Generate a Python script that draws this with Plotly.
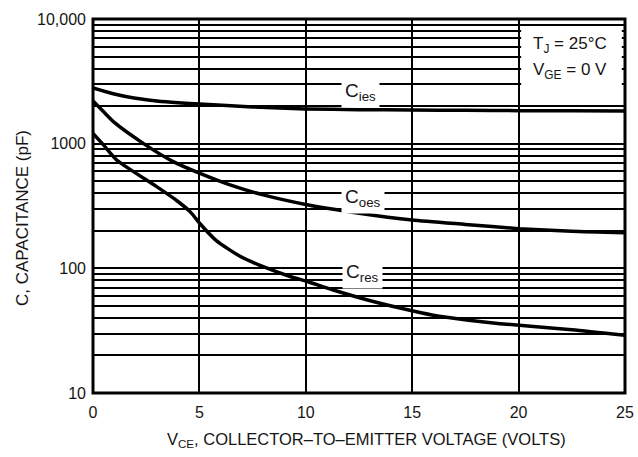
import plotly.graph_objects as go
import numpy as np

# Data
vce_ies = [0, 1, 2, 3, 4, 5, 7.5, 10, 12.5, 15, 17.5, 20, 22.5, 25]
c_ies = [2800, 2500, 2310, 2200, 2130, 2080, 1970, 1900, 1875, 1860, 1850, 1840, 1835, 1830]

vce_oes = [0, 0.5, 1, 2.36, 3.77, 5, 6.44, 8, 10, 12.5, 15, 17.5, 20, 22.5, 25]
c_oes = [2200, 1800, 1480, 1006, 718, 580, 467, 388, 325, 277, 244, 225, 208, 198, 193]

vce_res = [0, 0.49, 1.11, 1.9, 2.99, 3.93, 4.56, 5.03, 5.81, 6.91, 8.0, 9.26, 10.1,
           11.29, 12.86, 14.43, 15.99, 17.56, 19.13, 22.5, 25]
c_res = [1211, 977, 740, 597, 452, 350, 285, 228, 166, 125, 103, 86, 78,
         67, 56, 48, 42, 38.5, 36, 32.2, 29]

x_ticks = [0, 5, 10, 15, 20, 25]
y_ticks = [10, 100, 1000, 10000]
y_ticktext = ["10", "100", "1000", "10,000"]
y_minor = [m * d for d in [10, 100, 1000] for m in range(2, 10)]

curve_labels = ["C<sub>ies</sub>", "C<sub>oes</sub>", "C<sub>res</sub>"]
label_x = [12.55, 12.7, 12.65]
label_y = [2600, 367, 92]

FONT = "Liberation Sans, Arial, sans-serif"
TXT = "#151515"

fig = go.Figure()
for xs, ys in [(vce_ies, c_ies), (vce_oes, c_oes), (vce_res, c_res)]:
    fig.add_trace(go.Scatter(x=xs, y=ys, mode="lines",
                             line=dict(color="black", width=3.5, shape="spline", smoothing=0.6),
                             showlegend=False, hoverinfo="skip"))

fig.update_layout(
    width=638, height=457,
    margin=dict(l=93, r=13, t=19, b=64),
    paper_bgcolor="white", plot_bgcolor="white",
    xaxis=dict(range=[0, 25], tickvals=x_ticks, showgrid=True, gridcolor="black", gridwidth=2,
               zeroline=False, showline=False, ticks="", ticklabelstandoff=8, automargin=False,
               tickfont=dict(family=FONT, size=16, color=TXT)),
    yaxis=dict(type="log", range=[1, 4], tickvals=y_ticks, ticktext=y_ticktext,
               showgrid=True, gridcolor="black", gridwidth=2, automargin=False,
               minor=dict(tickvals=y_minor, showgrid=True, gridcolor="black", gridwidth=1.5, ticks=""),
               zeroline=False, showline=False, ticks="", ticklabelstandoff=6,
               tickfont=dict(family=FONT, size=16, color=TXT)),
)

# white box for conditions text
fig.add_shape(type="rect", xref="x", yref="y", x0=20.12, x1=24.85, y0=2300, y1=8600,
              fillcolor="white", line=dict(width=0), layer="above")
# plot frame
fig.add_shape(type="rect", xref="paper", yref="paper", x0=0, x1=1, y0=0, y1=1,
              line=dict(color="black", width=3), layer="above")

for t, xx, yy in zip(curve_labels, label_x, label_y):
    fig.add_annotation(x=xx, y=np.log10(yy), xref="x", yref="y", text=t, showarrow=False,
                       font=dict(family=FONT, size=19, color=TXT),
                       bgcolor="white", borderpad=3)

fig.add_annotation(x=20.58, y=4 - (45 - 19) / 124.7, xref="x", yref="y", xanchor="left",
                   yanchor="middle", showarrow=False, text="T<sub>J</sub> = 25°C",
                   font=dict(family=FONT, size=17, color=TXT))
fig.add_annotation(x=20.58, y=4 - (71 - 19) / 124.7, xref="x", yref="y", xanchor="left",
                   yanchor="middle", showarrow=False, text="V<sub>GE</sub> = 0 V",
                   font=dict(family=FONT, size=17, color=TXT))

# axis titles
fig.add_annotation(x=(366 - 93) / 532, y=(393 - 440) / 374, xref="paper", yref="paper",
                   xanchor="center", yanchor="middle",
                   showarrow=False, text="V<sub>CE</sub>, COLLECTOR–TO–EMITTER VOLTAGE (VOLTS)",
                   font=dict(family=FONT, size=16.5, color=TXT))
fig.add_annotation(x=(22 - 93) / 532, y=(393 - 218) / 374, xref="paper", yref="paper",
                   xanchor="center", yanchor="middle",
                   showarrow=False, textangle=-90, text="C, CAPACITANCE (pF)",
                   font=dict(family=FONT, size=17, color=TXT))

fig.write_html("out.html")
